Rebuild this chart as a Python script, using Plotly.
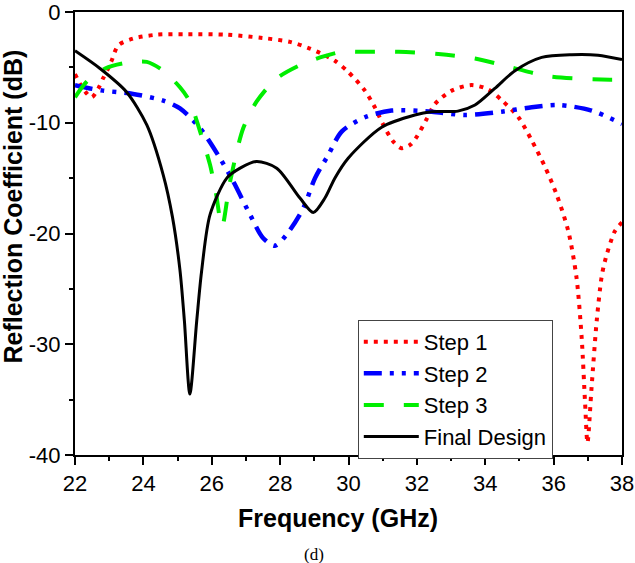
import plotly.graph_objects as go

# ---- data ----
step1_x = [22.0, 22.15, 22.3, 22.49, 22.68, 22.82, 22.97, 23.07, 23.27, 23.7, 24.39, 25.27, 26.44, 27.5,
           28.29, 28.87, 29.17, 29.6, 29.99, 30.48, 30.77, 31.02, 31.31, 31.55, 31.8, 31.99, 32.28,
           32.53, 33.02, 33.6, 34.09, 34.53, 34.97, 35.36, 35.75, 36.09, 36.43, 36.67, 36.82, 36.92,
           36.99, 37.11, 37.26, 37.4, 37.5, 37.79, 38.0]
step1_y = [-5.6, -6.5, -7.2, -7.7, -6.9, -6.0, -5.1, -4.4, -3.0, -2.4, -2.05, -2.0, -2.05, -2.35,
           -2.7, -3.3, -3.7, -4.4, -5.4, -7.1, -8.6, -10.2, -11.7, -12.3, -12.0, -11.3, -9.7,
           -8.3, -7.1, -6.6, -7.0, -8.1, -9.5, -11.6, -14.0, -16.5, -19.8, -24.0, -29.4, -35.3,
           -38.9, -33.9, -27.9, -24.0, -22.5, -19.8, -19.0]

step2_x = [22.0, 22.44, 22.82, 23.7, 24.58, 25.07, 25.66, 26.24, 26.63, 27.12, 27.5, 27.85, 28.19,
           28.68, 29.02, 29.41, 29.8, 30.48, 31.26, 32.43, 33.4, 34.48, 35.36, 36.14, 37.11, 38.0]
step2_y = [-6.6, -6.9, -7.1, -7.4, -8.0, -8.7, -10.5, -13.2, -15.3, -18.3, -20.4, -21.1, -20.1,
           -17.7, -15.0, -12.9, -10.8, -9.5, -8.9, -9.0, -9.3, -9.0, -8.6, -8.4, -8.9, -10.1]

step3_x = [22.0, 22.34, 22.88, 23.46, 24.1, 24.58, 25.07, 25.36, 25.66, 25.95, 26.12, 26.3,
           26.53, 26.92, 27.31, 27.9, 28.58, 29.17, 29.8, 30.29, 31.46, 32.63, 33.7,
           34.77, 35.84, 37.4, 38.0]
step3_y = [-7.7, -6.3, -5.1, -4.6, -4.5, -5.3, -6.8, -8.1, -10.8, -13.8, -16.3, -19.4,
           -15.4, -10.5, -8.1, -6.0, -4.8, -4.1, -3.6, -3.6, -3.6, -3.8, -4.2,
           -5.0, -5.8, -6.1, -6.1]

final_x = [22.0, 22.73, 23.5, 24.1, 24.58, 24.85, 25.07, 25.2, 25.36, 25.56, 25.7, 25.95, 26.44,
           26.83, 27.31, 27.9, 28.58, 28.97, 29.31, 29.6, 29.99, 30.97, 31.94, 32.43, 33.2, 33.7,
           34.28, 34.87, 35.65, 36.53, 37.3, 38.0]
final_y = [-3.5, -5.1, -7.2, -10.2, -14.7, -18.5, -23.3, -27.9, -34.5, -27.9, -23.5, -18.3, -15.0,
           -14.1, -13.5, -14.1, -16.8, -18.1, -16.8, -15.0, -13.2, -10.4, -9.3, -9.0, -8.95, -8.4,
           -6.9, -5.3, -4.1, -3.85, -3.9, -4.3]

y_ticks = [0, -10, -20, -30, -40]
y_tick_labels = ["0", "-10", "-20", "-30", "-40"]

names = ["Step 1", "Step 2", "Step 3", "Final Design"]
xs = [step1_x, step2_x, step3_x, final_x]
ys = [step1_y, step2_y, step3_y, final_y]
colors = ["#FF0000", "#0000FF", "#00EE00", "#000000"]
dashes = ["4px,6px", "18px,8px,4px,8px,4px,8px", "20px,20px", "solid"]
widths = [4, 4.5, 4, 3]

fig = go.Figure()
for n, x, y, c, d, w in zip(names, xs, ys, colors, dashes, widths):
    fig.add_trace(go.Scatter(x=x, y=y, name=n, mode="lines",
                             line=dict(color=c, dash=d, width=w, shape="spline", smoothing=0.8)))

font = "Arial, Liberation Sans, sans-serif"
axis_common = dict(showgrid=False, zeroline=False, showline=True, linecolor="black", linewidth=2,
                   mirror=True, ticks="outside", ticklen=8, tickwidth=1.5, tickcolor="black",
                   ticklabeloverflow="allow", automargin=False,
                   tickfont=dict(family=font, size=22, color="black"))
fig.update_xaxes(range=[22, 38], dtick=2, tick0=22,
                 minor=dict(dtick=1, ticks="outside", ticklen=4, tickwidth=1.5, tickcolor="black"),
                 **axis_common)
fig.update_yaxes(range=[-40, 0], tickmode="array", tickvals=y_ticks, ticktext=y_tick_labels,
                 minor=dict(dtick=5, tick0=0, ticks="outside", ticklen=4, tickwidth=1.5, tickcolor="black"),
                 **axis_common)

fig.update_layout(
    width=635, height=563,
    margin=dict(l=75, r=13, t=12, b=108, autoexpand=False),
    plot_bgcolor="white", paper_bgcolor="white",
    showlegend=True,
    legend=dict(x=0.517, y=0.305, xanchor="left", yanchor="top",
                bgcolor="white", bordercolor="#444", borderwidth=1,
                font=dict(family=font, size=22, color="black"),
                itemwidth=55, tracegroupgap=0),
    annotations=[
        dict(text="<b>Frequency (GHz)</b>", x=0.481, y=-0.142, xref="paper", yref="paper",
             xanchor="center", yanchor="middle", showarrow=False,
             font=dict(family=font, size=25, color="black")),
        dict(text="<b>Reflection Coefficient (dB)</b>", x=-0.114, y=0.56, xref="paper", yref="paper",
             xanchor="center", yanchor="middle", showarrow=False, textangle=-90,
             font=dict(family=font, size=25, color="black")),
        dict(text="(d)", x=0.437, y=-0.2255, xref="paper", yref="paper",
             xanchor="center", yanchor="middle", showarrow=False,
             font=dict(family="Liberation Serif, Times New Roman, serif", size=17, color="black")),
    ],
)

fig.write_html("out.html")
